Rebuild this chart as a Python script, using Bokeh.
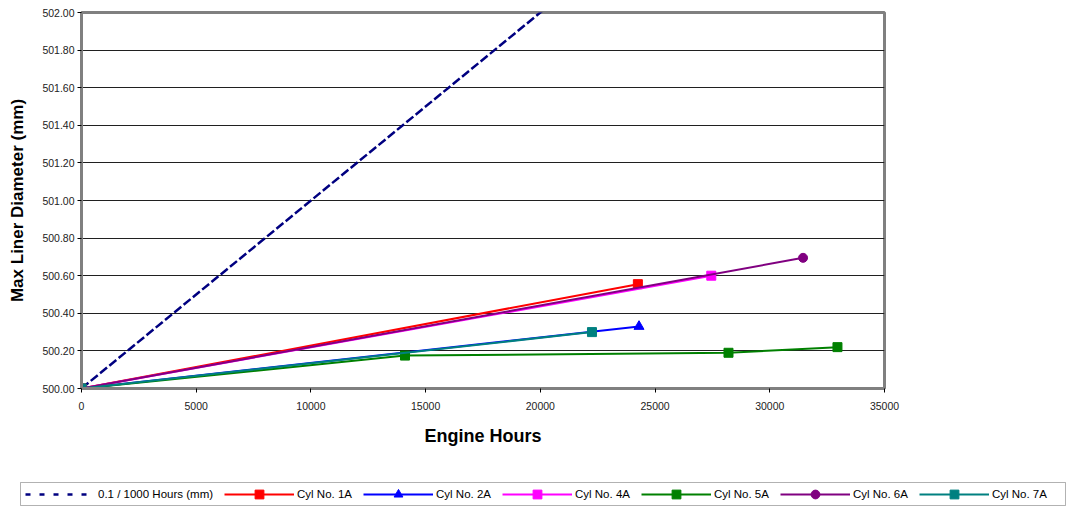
from bokeh.plotting import figure
from bokeh.layouts import column
from bokeh.models import (Legend, LegendItem, NumeralTickFormatter, FixedTicker,
                          Range1d, BoxAnnotation)
from bokeh.embed import file_html
from bokeh.resources import INLINE

# ---- data ----
ref_hours = [0, 35000]
ref_diam = [500.0, 503.5]

cyl1a_hours = [0, 24250]
cyl1a_diam = [500.0, 500.555]

cyl2a_hours = [0, 24300]
cyl2a_diam = [500.0, 500.33]

cyl4a_hours = [0, 27450]
cyl4a_diam = [500.0, 500.60]

cyl5a_hours = [0, 14100, 28200, 32950]
cyl5a_diam = [500.0, 500.175, 500.19, 500.22]

cyl6a_hours = [0, 31450]
cyl6a_diam = [500.0, 500.695]

cyl7a_hours = [0, 22250]
cyl7a_diam = [500.0, 500.30]

y_ticks = [500.0, 500.2, 500.4, 500.6, 500.8, 501.0, 501.2, 501.4, 501.6, 501.8, 502.0]
x_ticks = [0, 5000, 10000, 15000, 20000, 25000, 30000, 35000]

series_labels = ["0.1 / 1000 Hours (mm)", "Cyl No. 1A", "Cyl No. 2A", "Cyl No. 4A",
                 "Cyl No. 5A", "Cyl No. 6A", "Cyl No. 7A"]
series_colors = ["#000080", "#FF0000", "#0000FF", "#FF00FF", "#008000", "#800080", "#008080"]
series_markers = [None, "square", "triangle", "square", "square", "circle", "square"]
series_x = [ref_hours, cyl1a_hours, cyl2a_hours, cyl4a_hours, cyl5a_hours, cyl6a_hours, cyl7a_hours]
series_y = [ref_diam, cyl1a_diam, cyl2a_diam, cyl4a_diam, cyl5a_diam, cyl6a_diam, cyl7a_diam]

FONT = "Liberation Sans"

p = figure(width=1070, height=470, output_backend="svg", toolbar_location=None,
           x_range=Range1d(0, 35000), y_range=Range1d(500.0, 502.0),
           min_border_left=81, min_border_right=186, min_border_top=12, min_border_bottom=82)

p.outline_line_color = "#808080"
p.outline_line_width = 3

p.xgrid.grid_line_color = None
p.ygrid.grid_line_color = "#202020"
p.ygrid.grid_line_width = 1

p.yaxis.ticker = FixedTicker(ticks=y_ticks)
p.xaxis.ticker = FixedTicker(ticks=x_ticks)
p.yaxis.formatter = NumeralTickFormatter(format="0.00")
p.yaxis.minor_tick_line_color = None
p.xaxis.minor_tick_line_color = None

for ax in (p.xaxis, p.yaxis):
    ax.axis_line_color = "#808080"
    ax.axis_line_width = 3
    ax.major_tick_line_color = "black"
    ax.major_tick_in = 0
    ax.major_tick_out = 4
    ax.major_label_text_font = FONT
    ax.major_label_text_font_size = "10.5px"
    ax.major_label_text_color = "#222222"
    ax.axis_label_text_font = FONT
    ax.axis_label_text_font_style = "bold"
    ax.axis_label_text_color = "black"

p.yaxis.major_label_standoff = 3
p.xaxis.major_label_standoff = 9
p.yaxis.axis_label = "Max Liner Diameter (mm)"
p.yaxis.axis_label_text_font_size = "17px"
p.yaxis.axis_label_standoff = 12
p.xaxis.axis_label = "Engine Hours"
p.xaxis.axis_label_text_font_size = "18px"
p.xaxis.axis_label_standoff = 13

# legend-only strip below the chart (pixel-like ranges; series data lies outside its view)
lg = figure(width=1070, height=38, output_backend="svg", toolbar_location=None,
            x_range=Range1d(0, 1070), y_range=Range1d(0, 38),
            x_axis_location=None, y_axis_location=None,
            min_border_left=0, min_border_right=0, min_border_top=0, min_border_bottom=0)
lg.frame_align = False
lg.outline_line_color = None
lg.xgrid.grid_line_color = None
lg.ygrid.grid_line_color = None

items = []
for xs, ys, lab, col, mk in zip(series_x, series_y, series_labels,
                                series_colors, series_markers):
    if mk is None:
        p.line(xs, ys, line_color=col, line_width=2.5, line_dash="9 3")
        r = [lg.line(xs, ys, line_color=col, line_width=2.5, line_dash="5 9")]
    else:
        size = 10 if mk == "triangle" else 9
        p.line(xs, ys, line_color=col, line_width=2)
        p.scatter(xs, ys, marker=mk, size=size, fill_color=col, line_color=col)
        r = [lg.line(xs, ys, line_color=col, line_width=2),
             lg.scatter(xs, ys, marker=mk, size=size, fill_color=col, line_color=col)]
    items.append(LegendItem(label=lab, renderers=r))

legend = Legend(items=items, orientation="horizontal", location=(25, 3.5),
                glyph_width=70, glyph_height=22, label_standoff=3, spacing=11,
                padding=0, margin=0,
                label_text_font=FONT, label_text_font_size="11.5px",
                label_text_color="black",
                border_line_color=None, background_fill_alpha=0.0)
lg.add_layout(legend, "center")
lg.add_layout(BoxAnnotation(left=20, right=1065, bottom=3, top=26,
                            fill_alpha=0.0, line_color="black", line_width=1))

layout = column(p, lg, spacing=0)
open("out.html", "w").write(file_html(layout, INLINE))
